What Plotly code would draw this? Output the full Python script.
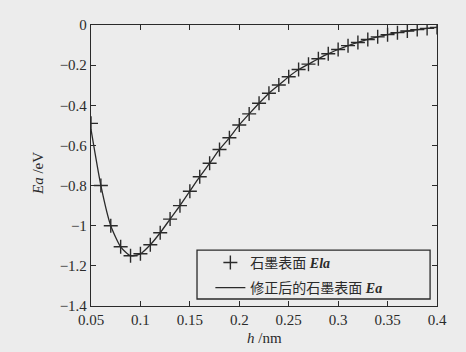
import plotly.graph_objects as go

h = [0.05, 0.06, 0.07, 0.08, 0.09, 0.10, 0.11, 0.12, 0.13, 0.14, 0.15, 0.16,
     0.17, 0.18, 0.19, 0.20, 0.21, 0.22, 0.23, 0.24, 0.25, 0.26, 0.27, 0.28,
     0.29, 0.30, 0.31, 0.32, 0.33, 0.34, 0.35, 0.36, 0.37, 0.38, 0.39, 0.40]
ela = [-0.49, -0.80, -1.00, -1.105, -1.15, -1.14, -1.095, -1.035, -0.967, -0.90,
       -0.828, -0.756, -0.689, -0.62, -0.562, -0.498, -0.443, -0.39, -0.34, -0.299,
       -0.258, -0.222, -0.195, -0.168, -0.143, -0.122, -0.103, -0.087, -0.072,
       -0.059, -0.048, -0.038, -0.030, -0.023, -0.017, -0.012]
ea = [-0.52, -0.80, -1.00, -1.105, -1.15, -1.14, -1.095, -1.035, -0.967, -0.90,
      -0.828, -0.756, -0.689, -0.62, -0.562, -0.498, -0.443, -0.39, -0.34, -0.299,
      -0.258, -0.222, -0.195, -0.168, -0.143, -0.122, -0.103, -0.087, -0.072,
      -0.059, -0.048, -0.038, -0.030, -0.023, -0.017, -0.012]

x_ticks = [0.05, 0.1, 0.15, 0.2, 0.25, 0.3, 0.35, 0.4]
y_ticks = [0, -0.2, -0.4, -0.6, -0.8, -1, -1.2, -1.4]
y_tick_text = ["0", "\u22120.2", "\u22120.4", "\u22120.6", "\u22120.8", "\u22121", "\u22121.2", "\u22121.4"]

serif = "Liberation Serif, Times New Roman, serif"
ink = "#2a2a2a"
bg = "#ececec"

fig = go.Figure()
fig.add_trace(go.Scatter(
    x=h, y=ela, mode="markers", name="石墨表面 <b><i>Ela</i></b>",
    legendgroup="a",
    marker=dict(symbol="cross-thin", size=10, line=dict(width=1.4, color=ink), color=ink),
))
fig.add_trace(go.Scatter(
    x=h, y=ea, mode="lines", name="修正后的石墨表面 <b><i>Ea</i></b>",
    legendgroup="b",
    line=dict(color=ink, width=1.3, shape="spline", smoothing=0.6),
))

axis_common = dict(
    showline=True, mirror="ticks", linecolor=ink, linewidth=1.3,
    ticks="inside", ticklen=5, tickwidth=1.2, tickcolor=ink,
    showgrid=False, zeroline=False,
)
tick_font = dict(family=serif, size=15, color=ink)

fig.update_layout(
    width=466, height=352,
    margin=dict(l=91, r=29, t=25, b=46),
    paper_bgcolor=bg, plot_bgcolor=bg,
    font=dict(family=serif, size=15, color=ink),
    xaxis=dict(range=[0.05, 0.4], tickmode="array", tickvals=x_ticks,
               ticktext=[str(v) for v in x_ticks], tickfont=tick_font, **axis_common),
    yaxis=dict(range=[-1.4, 0], tickmode="array", tickvals=y_ticks,
               ticktext=y_tick_text, tickfont=tick_font, **axis_common),
    showlegend=True,
    legend=dict(
        x=0.345, y=0.109, xanchor="left", yanchor="middle",
        bgcolor="rgba(0,0,0,0)", borderwidth=0,
        font=dict(family="Liberation Serif, Noto Sans CJK SC", size=14, color=ink),
        tracegroupgap=4,
    ),
    shapes=[dict(type="rect", xref="paper", yref="paper",
                 x0=0.3064, x1=0.98, y0=0.0249, y1=0.199,
                 line=dict(color=ink, width=1.3), fillcolor=bg, layer="above")],
    annotations=[
        dict(text="<i>h</i> /nm", x=0.5, y=-0.114, xref="paper", yref="paper",
             xanchor="center", yanchor="middle", showarrow=False,
             font=dict(family=serif, size=15, color=ink)),
        dict(text="<i>Ea</i> /eV", x=-0.153, y=0.47, xref="paper", yref="paper",
             xanchor="center", yanchor="middle", showarrow=False, textangle=-90,
             font=dict(family=serif, size=15, color=ink)),
    ],
)

fig.write_html("out.html", config={"displayModeBar": False},
               post_script="document.body.style.margin='0';document.body.style.background='%s';" % bg)
